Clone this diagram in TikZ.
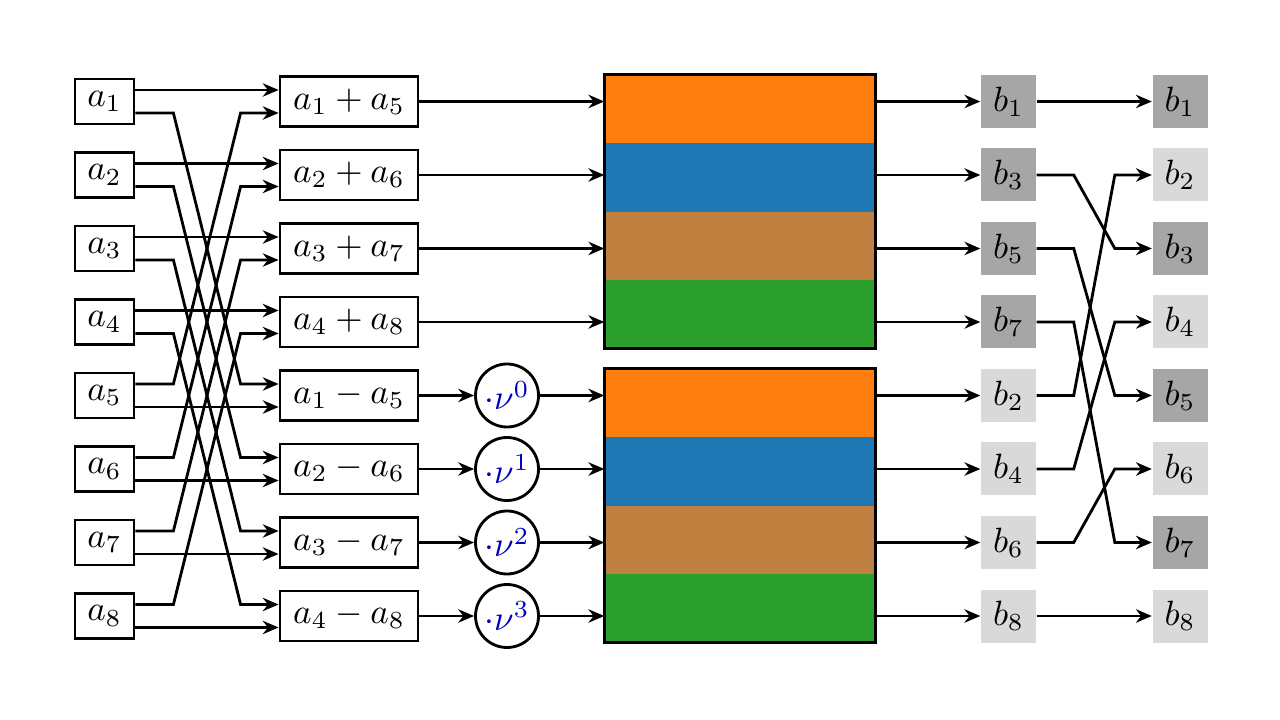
\documentclass[tikz,border=0pt]{standalone}
\usepackage{amsmath}
\usetikzlibrary{positioning,arrows.meta}

\definecolor{borange}{HTML}{FF7F0E}
\definecolor{bblue}{HTML}{1F77B4}
\definecolor{bbrown}{RGB}{191,128,64}
\definecolor{bgreen}{HTML}{2CA02C}

\begin{document}
\begin{tikzpicture}[
        on grid,
        node distance=7.35mm,
        >={Stealth[length=4.5pt,width=3.8pt]},
        inbox/.style={rectangle, draw=black, thick, minimum width=5.9mm, minimum height=4.5mm, inner sep=1pt},
        sumbox/.style={rectangle, draw=black, thick, minimum width=13.8mm, minimum height=5mm, inner sep=1pt},
        mulnode/.style={circle, draw=black, thick, minimum size=6.3mm, inner sep=0pt, text=blue!75!black},
        band/.style={rectangle, minimum width=27mm, minimum height=6.83mm, inner sep=0pt},
        outdark/.style={rectangle, fill=black!35, minimum width=5.5mm, minimum height=5.3mm, inner sep=0pt},
        outlight/.style={outdark, fill=black!15},
        arrow/.style={->, thick}
    ]
    \useasboundingbox (0,0) rectangle (12.8,-7.2);

    % inputs
    \node[inbox] (a1) at (1.045,-1.015) {$a_1$};
    \node[inbox, below=of a1] (a2) {$a_2$};
    \node[inbox, below=of a2] (a3) {$a_3$};
    \node[inbox, below=of a3] (a4) {$a_4$};
    \node[inbox, below=of a4] (a5) {$a_5$};
    \node[inbox, below=of a5] (a6) {$a_6$};
    \node[inbox, below=of a6] (a7) {$a_7$};
    \node[inbox, below=of a7] (a8) {$a_8$};

    % butterfly
    \node[sumbox, right=24.45mm of a1] (s1) {$a_1 + a_5$};
    \node[sumbox, right=24.45mm of a2] (s2) {$a_2 + a_6$};
    \node[sumbox, right=24.45mm of a3] (s3) {$a_3 + a_7$};
    \node[sumbox, right=24.45mm of a4] (s4) {$a_4 + a_8$};
    \node[sumbox, right=24.45mm of a5] (d1) {$a_1 - a_5$};
    \node[sumbox, right=24.45mm of a6] (d2) {$a_2 - a_6$};
    \node[sumbox, right=24.45mm of a7] (d3) {$a_3 - a_7$};
    \node[sumbox, right=24.45mm of a8] (d4) {$a_4 - a_8$};

    \node[mulnode, right=15.8mm of d1] (m0) {$\cdot\nu^{0}$};
    \node[mulnode, right=15.8mm of d2] (m1) {$\cdot\nu^{1}$};
    \node[mulnode, right=15.8mm of d3] (m2) {$\cdot\nu^{2}$};
    \node[mulnode, right=15.8mm of d4] (m3) {$\cdot\nu^{3}$};

    % the two blocks
    \node[band, fill=borange] (u1) at (7.40,-1.091) {};
    \node[band, fill=bblue, below=6.83mm of u1] (u2) {};
    \node[band, fill=bbrown, below=6.83mm of u2] (u3) {};
    \node[band, fill=bgreen, below=6.83mm of u3] (u4) {};
    \draw[thick] (u1.north west) rectangle (u4.south east);

    \node[band, fill=borange] (l1) at (7.40,-4.031) {};
    \node[band, fill=bblue, below=6.83mm of l1] (l2) {};
    \node[band, fill=bbrown, below=6.83mm of l2] (l3) {};
    \node[band, fill=bgreen, below=6.83mm of l3] (l4) {};
    \draw[thick] (l1.north west) rectangle (l4.south east);

    % outputs
    \node[outdark, right=90.4mm of a1] (p1) {$b_1$};
    \node[outdark, below=of p1] (p3) {$b_3$};
    \node[outdark, below=of p3] (p5) {$b_5$};
    \node[outdark, below=of p5] (p7) {$b_7$};
    \node[outlight, below=of p7] (p2) {$b_2$};
    \node[outlight, below=of p2] (p4) {$b_4$};
    \node[outlight, below=of p4] (p6) {$b_6$};
    \node[outlight, below=of p6] (p8) {$b_8$};

    \node[outdark, right=17.15mm of p1] (r1) {$b_1$};
    \node[outlight, below=of r1] (r2) {$b_2$};
    \node[outdark, below=of r2] (r3) {$b_3$};
    \node[outlight, below=of r3] (r4) {$b_4$};
    \node[outdark, below=of r4] (r5) {$b_5$};
    \node[outlight, below=of r5] (r6) {$b_6$};
    \node[outdark, below=of r6] (r7) {$b_7$};
    \node[outlight, below=of r7] (r8) {$b_8$};

    % inputs to sums
    \draw[arrow] ([yshift=1.15mm]a1.east) -- ([yshift=1.15mm]s1.west);
    \draw[arrow] ([yshift=1.15mm]a2.east) -- ([yshift=1.15mm]s2.west);
    \draw[arrow] ([yshift=1.15mm]a3.east) -- ([yshift=1.15mm]s3.west);
    \draw[arrow] ([yshift=1.15mm]a4.east) -- ([yshift=1.15mm]s4.west);
    \draw[arrow] ([yshift=1.15mm]a5.east) -- ++(3.8mm,0) -- ([xshift=-3.8mm,yshift=-1.15mm]s1.west) -- ([yshift=-1.15mm]s1.west);
    \draw[arrow] ([yshift=1.15mm]a6.east) -- ++(3.8mm,0) -- ([xshift=-3.8mm,yshift=-1.15mm]s2.west) -- ([yshift=-1.15mm]s2.west);
    \draw[arrow] ([yshift=1.15mm]a7.east) -- ++(3.8mm,0) -- ([xshift=-3.8mm,yshift=-1.15mm]s3.west) -- ([yshift=-1.15mm]s3.west);
    \draw[arrow] ([yshift=1.15mm]a8.east) -- ++(3.8mm,0) -- ([xshift=-3.8mm,yshift=-1.15mm]s4.west) -- ([yshift=-1.15mm]s4.west);

    % inputs to differences
    \draw[arrow] ([yshift=-1.15mm]a1.east) -- ++(3.8mm,0) -- ([xshift=-3.8mm,yshift=1.15mm]d1.west) -- ([yshift=1.15mm]d1.west);
    \draw[arrow] ([yshift=-1.15mm]a2.east) -- ++(3.8mm,0) -- ([xshift=-3.8mm,yshift=1.15mm]d2.west) -- ([yshift=1.15mm]d2.west);
    \draw[arrow] ([yshift=-1.15mm]a3.east) -- ++(3.8mm,0) -- ([xshift=-3.8mm,yshift=1.15mm]d3.west) -- ([yshift=1.15mm]d3.west);
    \draw[arrow] ([yshift=-1.15mm]a4.east) -- ++(3.8mm,0) -- ([xshift=-3.8mm,yshift=1.15mm]d4.west) -- ([yshift=1.15mm]d4.west);
    \draw[arrow] ([yshift=-1.15mm]a5.east) -- ([yshift=-1.15mm]d1.west);
    \draw[arrow] ([yshift=-1.15mm]a6.east) -- ([yshift=-1.15mm]d2.west);
    \draw[arrow] ([yshift=-1.15mm]a7.east) -- ([yshift=-1.15mm]d3.west);
    \draw[arrow] ([yshift=-1.15mm]a8.east) -- ([yshift=-1.15mm]d4.west);

    % into the blocks
    \draw[arrow] (s1) -- (s1 -| u1.west);
    \draw[arrow] (s2) -- (s2 -| u1.west);
    \draw[arrow] (s3) -- (s3 -| u1.west);
    \draw[arrow] (s4) -- (s4 -| u1.west);
    \draw[arrow] (d1) -- (m0);
    \draw[arrow] (d2) -- (m1);
    \draw[arrow] (d3) -- (m2);
    \draw[arrow] (d4) -- (m3);
    \draw[arrow] (m0) -- (m0 -| l1.west);
    \draw[arrow] (m1) -- (m1 -| l1.west);
    \draw[arrow] (m2) -- (m2 -| l1.west);
    \draw[arrow] (m3) -- (m3 -| l1.west);

    % out of the blocks
    \draw[arrow] (p1 -| u1.east) -- (p1);
    \draw[arrow] (p3 -| u1.east) -- (p3);
    \draw[arrow] (p5 -| u1.east) -- (p5);
    \draw[arrow] (p7 -| u1.east) -- (p7);
    \draw[arrow] (p2 -| l1.east) -- (p2);
    \draw[arrow] (p4 -| l1.east) -- (p4);
    \draw[arrow] (p6 -| l1.east) -- (p6);
    \draw[arrow] (p8 -| l1.east) -- (p8);

    % reordering
    \draw[arrow] (p1) -- (r1);
    \draw[arrow] (p3.east) -- ++(3.7mm,0) -- ([xshift=-3.7mm]r3.west) -- (r3.west);
    \draw[arrow] (p5.east) -- ++(3.7mm,0) -- ([xshift=-3.7mm]r5.west) -- (r5.west);
    \draw[arrow] (p7.east) -- ++(3.7mm,0) -- ([xshift=-3.7mm]r7.west) -- (r7.west);
    \draw[arrow] (p2.east) -- ++(3.7mm,0) -- ([xshift=-3.7mm]r2.west) -- (r2.west);
    \draw[arrow] (p4.east) -- ++(3.7mm,0) -- ([xshift=-3.7mm]r4.west) -- (r4.west);
    \draw[arrow] (p6.east) -- ++(3.7mm,0) -- ([xshift=-3.7mm]r6.west) -- (r6.west);
    \draw[arrow] (p8) -- (r8);
\end{tikzpicture}
\end{document}
